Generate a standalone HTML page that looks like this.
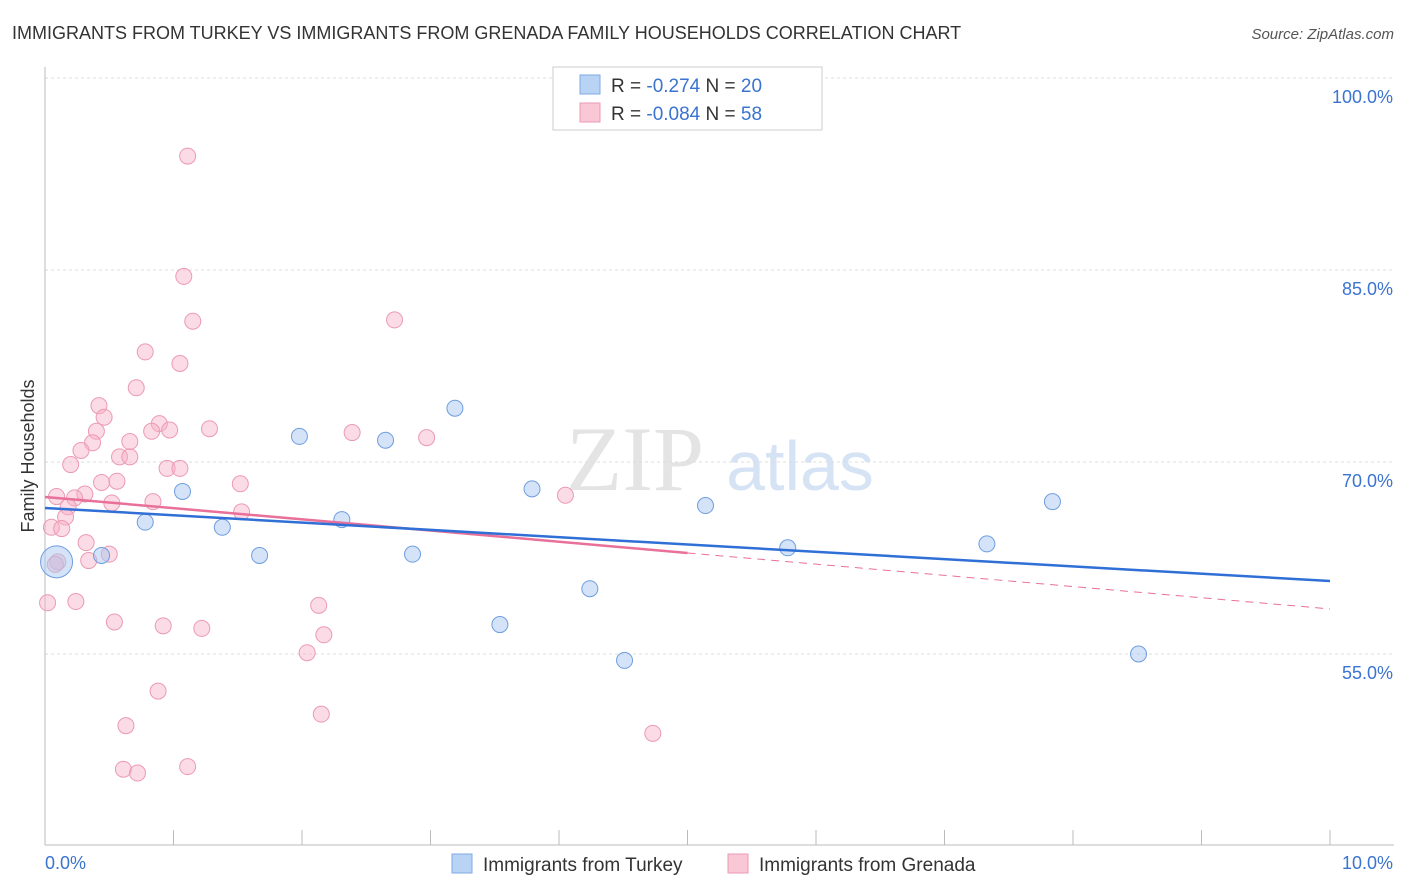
<!DOCTYPE html>
<html><head><meta charset="utf-8">
<style>
body{margin:0;background:#fff;font-family:"Liberation Sans",sans-serif;}
svg{display:block}
</style></head><body>
<svg id="c" width="1406" height="892">
<text x="12" y="39" font-size="18" fill="#333">IMMIGRANTS FROM TURKEY VS IMMIGRANTS FROM GRENADA FAMILY HOUSEHOLDS CORRELATION CHART</text>
<text x="1394" y="39" font-size="15" fill="#555" font-style="italic" text-anchor="end">Source: ZipAtlas.com</text>
<text x="635" y="490" font-size="92" fill="#e4e4e4" font-family="Liberation Serif" text-anchor="middle">ZIP</text>
<text x="800" y="490" font-size="70" fill="#d6e3f5" text-anchor="middle">atlas</text>
<text transform="translate(34,456) rotate(-90)" font-size="18" fill="#333" text-anchor="middle">Family Households</text>
<g id="grid"></g><g id="marks"></g>
<g>
<rect x="553" y="67" width="269" height="63" fill="#fff" stroke="#ccc"/>
<rect x="580" y="75" width="20" height="19" fill="#b9d3f5" stroke="#7ea9e0"/>
<rect x="580" y="103" width="20" height="19" fill="#f9c7d5" stroke="#ec9ab3"/>
<text x="611" y="92" font-size="19" fill="#333">R = <tspan fill="#3a73d0">-0.274</tspan>   N = <tspan fill="#3a73d0">20</tspan></text>
<text x="611" y="120" font-size="19" fill="#333">R = <tspan fill="#3a73d0">-0.084</tspan>   N = <tspan fill="#3a73d0">58</tspan></text>
</g>
<g>
<rect x="452" y="854" width="20" height="19" fill="#b9d3f5" stroke="#7ea9e0"/>
<text x="483" y="871" font-size="19" fill="#333">Immigrants from Turkey</text>
<rect x="728" y="854" width="20" height="19" fill="#f9c7d5" stroke="#ec9ab3"/>
<text x="759" y="871" font-size="19" fill="#333">Immigrants from Grenada</text>
</g>
</svg>
<script>
const yTicks=[100,85,70,55];
const xTickLabels=["0.0%","10.0%"];
const turkeyX=[0.09,0.44,0.78,1.07,1.38,1.67,1.98,2.31,2.65,2.86,3.19,3.54,3.79,4.24,4.51,5.14,5.78,7.33,7.84,8.51];
const turkeyY=[62.2,62.7,65.3,67.7,64.9,62.7,72.0,65.5,71.7,62.8,74.2,57.3,67.9,60.1,54.5,66.6,63.3,63.6,66.9,55.0];
const grenadaX=[1.11,1.08,1.15,2.72,0.78,1.05,0.71,0.42,0.46,0.89,0.97,0.40,0.83,1.28,2.39,2.97,0.37,0.66,0.28,0.58,0.66,0.20,0.95,1.05,1.52,0.56,0.44,0.31,0.09,0.23,0.84,0.52,0.18,1.53,0.16,4.05,0.05,0.13,0.32,0.50,0.34,0.10,0.02,0.24,2.13,0.54,0.92,1.22,2.17,2.04,0.88,2.15,0.63,4.73,0.61,0.72,1.11,0.08];
const grenadaY=[93.9,84.5,81.0,81.1,78.6,77.7,75.8,74.4,73.5,73.0,72.5,72.4,72.4,72.6,72.3,71.9,71.5,71.6,70.9,70.4,70.4,69.8,69.5,69.5,68.3,68.5,68.4,67.5,67.3,67.2,66.9,66.8,66.5,66.1,65.7,67.4,64.9,64.8,63.7,62.8,62.3,62.2,59.0,59.1,58.8,57.5,57.2,57.0,56.5,55.1,52.1,50.3,49.4,48.8,46.0,45.7,46.2,62.0];
const turkeyTrend=[66.41,60.70];
const grenadaTrend=[67.27,58.52];
const NS="http://www.w3.org/2000/svg";
const X=v=>45+v*128.5, Y=v=>78+(100-v)*12.8;
function mk(t,a,p){const e=document.createElementNS(NS,t);for(const k in a)e.setAttribute(k,a[k]);p.appendChild(e);return e;}
const g=document.getElementById('grid'),m=document.getElementById('marks');
yTicks.forEach(t=>{const l=mk('line',{x1:45,x2:1394,y1:Y(t),y2:Y(t),stroke:'#ddd','stroke-dasharray':'3,3'},g);

const tx=mk('text',{x:1393,y:Y(t)+25,'font-size':18,fill:'#3a73d0','text-anchor':'end'},g);tx.textContent=t.toFixed(1)+'%';
});
const ax=mk('line',{x1:45,x2:1394,y1:845,y2:845,stroke:'#bbb'},g);

const ay=mk('line',{x1:45,x2:45,y1:67,y2:845,stroke:'#bbb'},g);

for(let i=0;i<=10;i++){const t=mk('line',{x1:X(i),x2:X(i),y1:830,y2:845,stroke:'#bbb'},g);
}
xTickLabels.forEach((s,i)=>{const t=mk('text',{x:i?1393:45,y:869,'font-size':18,fill:'#3a73d0','text-anchor':i?'end':'start'},g);t.textContent=s;
});
grenadaX.forEach((x,i)=>{const c=mk('circle',{cx:X(x),cy:Y(grenadaY[i]),r:8,fill:'rgba(246,175,198,0.45)',stroke:'#ec9ab3','stroke-width':1},m);
});
turkeyX.forEach((x,i)=>{const c=mk('circle',{cx:X(x),cy:Y(turkeyY[i]),r:i==0?16:8,fill:'rgba(170,200,240,0.5)',stroke:'#6e9ee0','stroke-width':1},m);
});
const pm=grenadaTrend[0]+(grenadaTrend[1]-grenadaTrend[0])*0.5;
let l=mk('line',{x1:X(0),y1:Y(grenadaTrend[0]),x2:X(5),y2:Y(pm),stroke:'#e8709a','stroke-width':2.5},m);

l=mk('line',{x1:X(5),y1:Y(pm),x2:X(10),y2:Y(grenadaTrend[1]),stroke:'#e8709a','stroke-width':1,'stroke-dasharray':'8,6'},m);

l=mk('line',{x1:X(0),y1:Y(turkeyTrend[0]),x2:X(10),y2:Y(turkeyTrend[1]),stroke:'#2f6fd6','stroke-width':2.5},m);

</script>
</body></html>
